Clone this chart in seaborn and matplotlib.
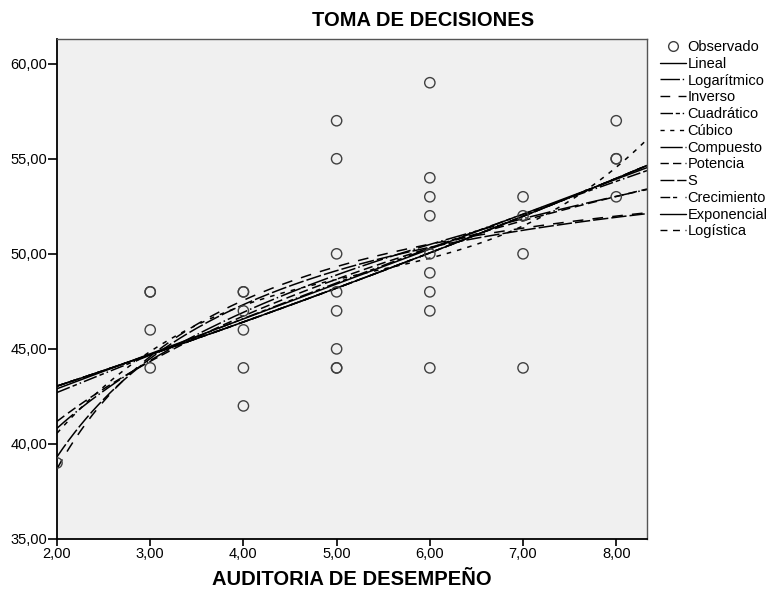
import numpy as np
import pandas as pd
import matplotlib
matplotlib.use("Agg")
import matplotlib.pyplot as plt
from matplotlib.lines import Line2D
import seaborn as sns

aud = [2, 3, 3, 3, 3, 4, 4, 4, 4, 4, 4,
       5, 5, 5, 5, 5, 5, 5, 5,
       6, 6, 6, 6, 6, 6, 6, 6, 6,
       7, 7, 7, 7, 8, 8, 8, 8]
toma = [39, 48, 48, 46, 44, 48, 48, 47, 46, 44, 42,
        57, 55, 50, 48, 47, 45, 44, 44,
        59, 54, 53, 52, 50, 49, 48, 47, 44,
        53, 52, 50, 44, 57, 55, 55, 53]

model_names = ["Lineal", "Logarítmico", "Inverso", "Cuadrático", "Cúbico",
               "Compuesto", "Potencia", "S", "Crecimiento", "Exponencial", "Logística"]
x_ticks = [2, 3, 4, 5, 6, 7, 8]
y_ticks = [35, 40, 45, 50, 55, 60]

sns.set_theme(style="white")
plt.rcParams['font.family'] = ['Liberation Sans', 'DejaVu Sans']
plt.rcParams.update({"text.color": "black", "axes.labelcolor": "black",
                     "xtick.color": "black", "ytick.color": "black"})

df = pd.DataFrame({"x": aud, "y": toma})
X = np.asarray(aud, float)
Y = np.asarray(toma, float)

XMIN, XMAX = 2.0, 8.33
xs = np.linspace(XMIN, XMAX, 300)

def fit_curves():
    c = {}
    b = np.polyfit(X, Y, 1); c["Lineal"] = np.polyval(b, xs)
    b = np.polyfit(np.log(X), Y, 1); c["Logarítmico"] = np.polyval(b, np.log(xs))
    b = np.polyfit(1 / X, Y, 1); c["Inverso"] = np.polyval(b, 1 / xs)
    b = np.polyfit(X, Y, 2); c["Cuadrático"] = np.polyval(b, xs)
    b = np.polyfit(X, Y, 3); c["Cúbico"] = np.polyval(b, xs)
    b = np.polyfit(X, np.log(Y), 1); c["Compuesto"] = np.exp(np.polyval(b, xs))
    b = np.polyfit(np.log(X), np.log(Y), 1); c["Potencia"] = np.exp(np.polyval(b, np.log(xs)))
    b = np.polyfit(1 / X, np.log(Y), 1); c["S"] = np.exp(np.polyval(b, 1 / xs))
    b = np.polyfit(X, np.log(Y), 1); c["Crecimiento"] = np.exp(np.polyval(b, xs))
    c["Exponencial"] = np.exp(np.polyval(b, xs))
    b = np.polyfit(X, np.log(1 / Y), 1); c["Logística"] = 1 / np.exp(np.polyval(b, xs))
    return c

curves = fit_curves()

styles = {
    "Lineal": "-",
    "Logarítmico": (0, (14, 2, 1, 2)),
    "Inverso": (0, (7, 6)),
    "Cuadrático": (0, (9, 2, 3, 2, 1, 2)),
    "Cúbico": (0, (3, 4)),
    "Compuesto": (0, (16, 2, 1, 2)),
    "Potencia": (0, (6, 3)),
    "S": (0, (10, 2)),
    "Crecimiento": (0, (7, 2, 3, 6)),
    "Exponencial": "-",
    "Logística": (0, (5, 4)),
}

fig = plt.figure(figsize=(7.7, 5.92), dpi=100)
ax = fig.add_axes([57 / 770, 1 - 539 / 592, (647 - 57) / 770, (539 - 39) / 592])
ax.set_facecolor("#f0f0f0")

for name in model_names:
    sns.lineplot(x=xs, y=curves[name], ax=ax, color="black", linewidth=1.1,
                 linestyle=styles[name], sort=False, errorbar=None)

sns.scatterplot(data=df, x="x", y="y", ax=ax, marker="o", s=55,
                facecolors="none", edgecolor="#404040", linewidth=1.0, zorder=5)

ax.set_xlim(XMIN, XMAX)
ax.set_ylim(35, 61.3)
ax.set_xticks(x_ticks)
ax.set_yticks(y_ticks)
ax.set_xticklabels([f"{v:.2f}".replace(".", ",") for v in x_ticks], fontsize=10.5)
ax.set_yticklabels([f"{v:.2f}".replace(".", ",") for v in y_ticks], fontsize=10.5)
ax.tick_params(axis="y", direction="out", length=6.5, width=1.2, color="black",
               left=True, pad=0.5)
ax.tick_params(axis="x", direction="out", length=5, width=1.2, color="black",
               bottom=True, pad=1)
for s in ["left", "bottom"]:
    ax.spines[s].set_color("black")
    ax.spines[s].set_linewidth(1.3)
for s in ["top", "right"]:
    ax.spines[s].set_color("#555555")
    ax.spines[s].set_linewidth(1.0)
ax.set_xlabel("AUDITORIA DE DESEMPEÑO", fontsize=14.5, fontweight="bold", labelpad=6)
ax.set_ylabel("")

fig.text(423 / 770, 1 - 20 / 592, "TOMA DE DECISIONES", ha="center", va="center",
         fontsize=14.5, fontweight="bold")

handles = [Line2D([], [], marker="o", linestyle="none", markerfacecolor="none",
                  markeredgecolor="#404040", markersize=7)]
for name in model_names:
    handles.append(Line2D([], [], color="black", linewidth=1.0, linestyle=styles[name]))
fig.legend(handles, ["Observado"] + model_names, loc="upper left",
           bbox_to_anchor=(660 / 770, 1 - 40 / 592), frameon=False, fontsize=10.5,
           handlelength=1.8, handletextpad=0.1, labelspacing=0.19, borderaxespad=0,
           borderpad=0)

fig.savefig("out.png", dpi=100, facecolor="white")
